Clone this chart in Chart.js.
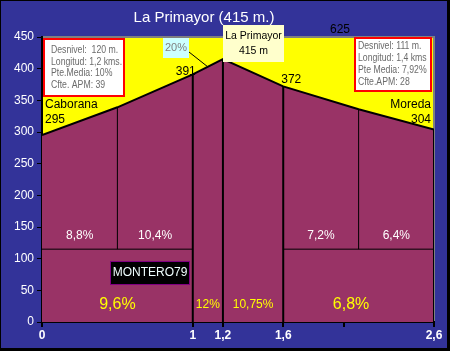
<!DOCTYPE html>
<html><head><meta charset="utf-8">
<script src="https://cdn.jsdelivr.net/npm/chart.js@4.4.1/dist/chart.umd.min.js"></script>
<style>html,body{margin:0;padding:0;background:#333399;}canvas{display:block;}</style>
</head><body>
<div style="width:450px;height:351px;"><canvas id="c" width="450" height="351"></canvas></div>
<script>
// ---- data ----
const distances = [0, 0.5, 1, 1.2, 1.6, 2.1, 2.6];
const altitudes = [295, 339, 391, 415, 372, 336, 304];
const majorCuts = [1, 1.2, 1.6, 2.6];        // thick vertical dividers
const minorCuts = [0.5, 2.1];               // thin vertical dividers
const baseLevel = 115;                       // horizontal divider altitude
const xTickValues = [0, 1, 1.2, 1.6, 2, 2.6];
const xTickLabels = ['0', '1', '1,2', '1,6', '', '2,6'];
const segGrades = ['8,8%', '10,4%', '7,2%', '6,4%'];
const bigGrades = ['9,6%', '12%', '10,75%', '6,8%'];
const leftInfo = ['Desnivel:  120 m.', 'Longitud: 1,2 kms.', 'Pte.Media: 10%', 'Cfte. APM: 39'];
const rightInfo = ['Desnivel: 111 m.', 'Longitud: 1,4 kms', 'Pte Media: 7,92%', 'Cfte.APM: 28'];

const altAt = d => altitudes[distances.indexOf(d)];
const F = 'Liberation Sans, Arial, sans-serif';

const datasets = [{
  data: distances.map((d, i) => ({x: d, y: altitudes[i]})),
  fill: 'origin', backgroundColor: '#993366', borderColor: '#000', borderWidth: 2,
  pointRadius: 0, tension: 0, order: 10
}];
majorCuts.forEach(d => datasets.push({
  data: [{x: d, y: 0}, {x: d, y: altAt(d)}], borderColor: '#000', borderWidth: 2,
  pointRadius: 0, fill: false, order: 1
}));
minorCuts.forEach(d => datasets.push({
  data: [{x: d, y: baseLevel}, {x: d, y: altAt(d)}], borderColor: '#000', borderWidth: 1,
  pointRadius: 0, fill: false, order: 1
}));
[[0, 1], [1.6, 2.6]].forEach(([a, b]) => datasets.push({
  data: [{x: a, y: baseLevel}, {x: b, y: baseLevel}], borderColor: '#000', borderWidth: 1,
  pointRadius: 0, fill: false, order: 1
}));

const bgPlugin = {
  id: 'bg',
  beforeDraw(chart) {
    const ctx = chart.ctx, a = chart.chartArea;
    ctx.save();
    ctx.fillStyle = '#000'; ctx.fillRect(0, 0, 450, 351);
    ctx.fillStyle = '#333399'; ctx.fillRect(1, 1, 446, 347);
    ctx.fillStyle = '#ffff00'; ctx.fillRect(a.left, a.top, a.right - a.left, a.bottom - a.top);
    ctx.strokeStyle = '#808080'; ctx.lineWidth = 2;
    ctx.beginPath(); ctx.moveTo(a.left, a.top); ctx.lineTo(a.right, a.top); ctx.lineTo(a.right, a.bottom); ctx.stroke();
    ctx.restore();
  }
};

function txt(ctx, s, x, y, font, color, align, base) {
  ctx.font = font; ctx.fillStyle = color; ctx.textAlign = align || 'center'; ctx.textBaseline = base || 'middle';
  ctx.fillText(s, x, y);
}
function box(ctx, x, y, w, h, fill, stroke, lw) {
  ctx.fillStyle = fill; ctx.fillRect(x, y, w, h);
  if (stroke) { ctx.strokeStyle = stroke; ctx.lineWidth = lw; ctx.strokeRect(x, y, w, h); }
}
function narrow(ctx, s, x, y, font, color, sx) {
  ctx.save(); ctx.translate(x, y); ctx.scale(sx, 1);
  ctx.font = font; ctx.fillStyle = color; ctx.textAlign = 'left'; ctx.textBaseline = 'middle';
  ctx.fillText(s, 0, 0); ctx.restore();
}

const annPlugin = {
  id: 'ann',
  afterDraw(chart) {
    const ctx = chart.ctx, X = chart.scales.x, Y = chart.scales.y;
    const px = v => X.getPixelForValue(v), py = v => Y.getPixelForValue(v);
    ctx.save();
    // title
    txt(ctx, 'La Primayor (415 m.)', 204, 18, '15px ' + F, '#ffffff');
    txt(ctx, '625', 340, 30, '12px ' + F, '#000');
    // segment grades
    [0.25, 0.75, 1.85, 2.35].forEach((d, i) => txt(ctx, segGrades[i], px(d), py(136), '12px ' + F, '#ffffff'));
    const bigX = [0.5, 1.1, 1.4, 2.05], bigF = ['16px ', '12px ', '12px ', '16px '];
    bigX.forEach((d, i) => txt(ctx, bigGrades[i], px(d), py(27), bigF[i] + F, '#ffff00'));
    // point labels
    txt(ctx, '391', px(1) + 3, py(391) - 3, '12px ' + F, '#000', 'right');
    txt(ctx, '372', px(1.6) - 2, py(372) - 7, '12px ' + F, '#000', 'left');
    txt(ctx, 'Caborana', px(0) + 3, 105, '12px ' + F, '#000', 'left');
    txt(ctx, '295', px(0) + 3, py(295) - 15, '12px ' + F, '#000', 'left');
    txt(ctx, 'Moreda', px(2.6) - 3, 105, '12px ' + F, '#000', 'right');
    txt(ctx, '304', px(2.6) - 3, py(304) - 10, '12px ' + F, '#000', 'right');
    // info boxes
    box(ctx, 44, 39, 80, 57, '#ffffff', '#ff0000', 2);
    leftInfo.forEach((s, i) => narrow(ctx, s, 51, 50 + i * 11.8, '10px ' + F, '#6b6b6b', 0.87));
    box(ctx, 355, 38, 76, 53, '#ffffff', '#ff0000', 2);
    rightInfo.forEach((s, i) => narrow(ctx, s, 358, 46 + i * 12, '10px ' + F, '#6b6b6b', 0.87));
    // summit box
    box(ctx, 223, 25, 61, 37, '#ffffcc');
    txt(ctx, 'La Primayor', 253.5, 36, '10.5px ' + F, '#000');
    txt(ctx, '415 m', 253.5, 51, '10.5px ' + F, '#000');
    // 20% box + leader
    box(ctx, 163, 38, 26, 20, '#ccffff');
    txt(ctx, '20%', 176, 48, '11px ' + F, '#808080');
    ctx.strokeStyle = '#000'; ctx.lineWidth = 1;
    ctx.beginPath(); ctx.moveTo(189, 52); ctx.lineTo(208, 67); ctx.stroke();
    // signature
    box(ctx, 110.5, 261.5, 79, 23, '#000000', '#800080', 1);
    txt(ctx, 'MONTERO79', 150, 273, '12px ' + F, '#f0ffff');
    ctx.restore();
  }
};

new Chart(document.getElementById('c'), {
  type: 'line',
  data: {datasets},
  options: {
    responsive: false, animation: false, devicePixelRatio: 1,
    layout: {padding: {top: 37, right: 16, left: 0, bottom: 0}},
    plugins: {legend: {display: false}, title: {display: false}, tooltip: {enabled: false}},
    scales: {
      x: {
        type: 'linear', min: 0, max: 2.6,
        afterBuildTicks: s => { s.ticks = xTickValues.map(v => ({value: v})); },
        afterFit: s => { s.height = 29; },
        ticks: {color: '#ffffff', font: {family: F, size: 12, weight: 'bold'}, padding: 1, maxRotation: 0, autoSkip: false,
          callback: (v, i) => xTickLabels[i]},
        grid: {drawOnChartArea: false, color: '#000', lineWidth: 2, tickLength: 5},
        border: {display: true, color: '#000', width: 2}
      },
      y: {
        min: 0, max: 450,
        afterFit: s => { s.width = 42; },
        ticks: {stepSize: 50, color: '#ffffff', font: {family: F, size: 12}, padding: 3},
        grid: {drawOnChartArea: false, color: '#000', lineWidth: 1, tickLength: 5},
        border: {display: true, color: '#000', width: 2}
      }
    }
  },
  plugins: [bgPlugin, annPlugin]
});
</script>
</body></html>
